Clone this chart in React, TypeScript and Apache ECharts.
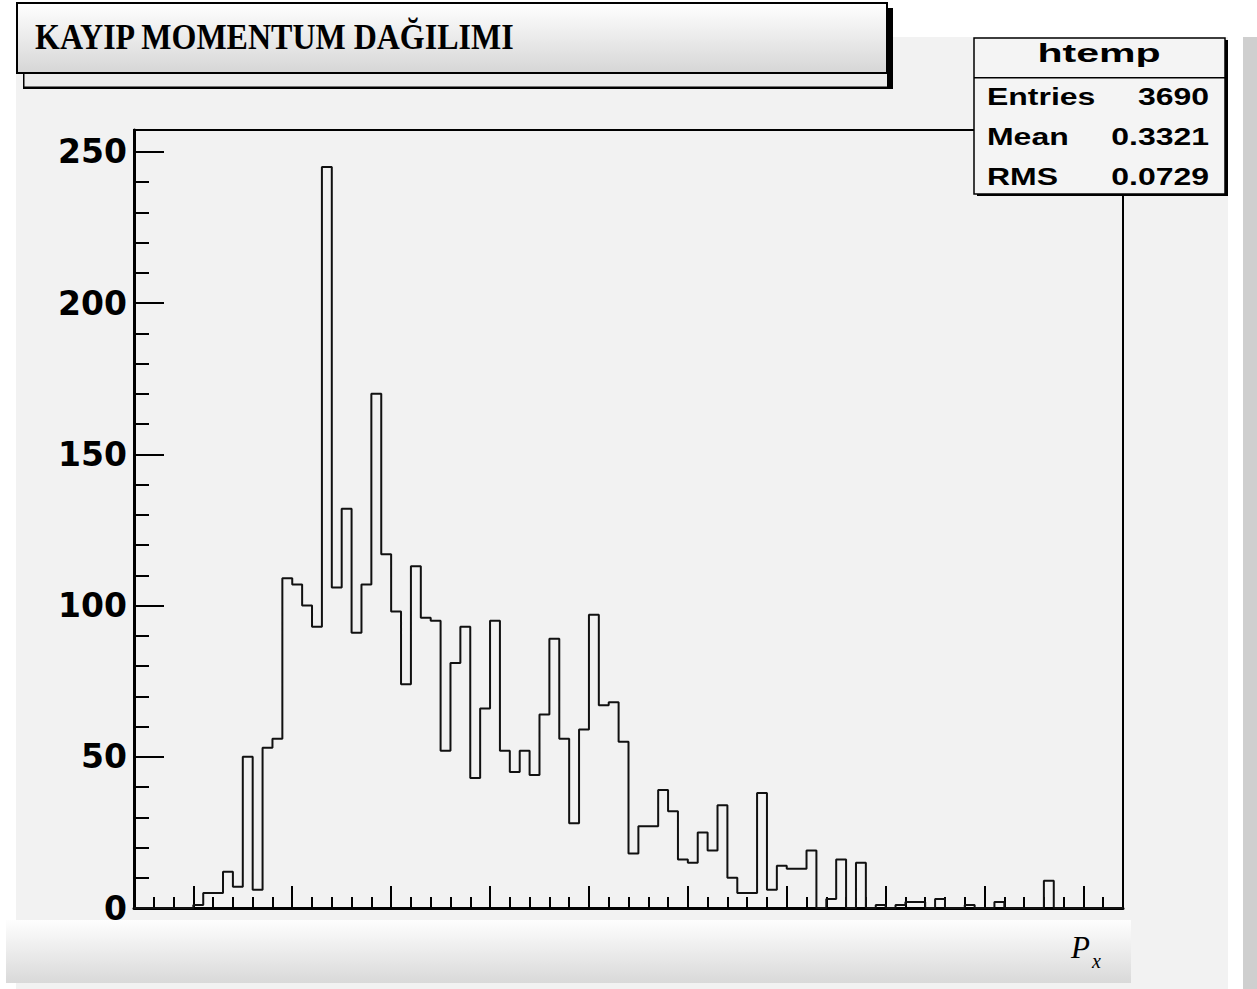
import React, { useEffect, useRef } from "react";
import * as echarts from "echarts";

// Histogram "htemp": 100 bins, counts
const COUNTS = [
  0, 0, 0, 0, 0, 0, 1, 5, 5, 12,
  7, 50, 6, 53, 56, 109, 107, 100, 93, 245,
  106, 132, 91, 107, 170, 117, 98, 74, 113, 96,
  95, 52, 81, 93, 43, 66, 95, 52, 45, 52,
  44, 64, 89, 56, 28, 59, 97, 67, 68, 55,
  18, 27, 27, 39, 32, 16, 15, 25, 19, 34,
  10, 5, 5, 38, 6, 14, 13, 13, 19, 0,
  3, 16, 0, 15, 0, 1, 0, 1, 2, 2,
  0, 3, 0, 0, 1, 0, 0, 2, 0, 0,
  0, 0, 9, 0, 0, 0, 0, 0, 0, 0,
];
const BIN_COUNT = 100;
const Y_MAX = 257.25; // 1.05 x maximum bin
const X_MAJOR_TICKS = [6, 16, 26, 36, 46, 56, 66, 76, 86, 96];
const X_MINOR_TICKS = [2, 4, 8, 10, 12, 14, 18, 20, 22, 24, 28, 30, 32, 34, 38, 40, 42, 44, 48, 50, 52, 54, 58, 60, 62, 64, 68, 70, 72, 74, 78, 80, 82, 84, 88, 90, 92, 94, 98];
const Y_MAJOR_TICKS = [0, 50, 100, 150, 200, 250];
const Y_MINOR_TICKS = [10, 20, 30, 40, 60, 70, 80, 90, 110, 120, 130, 140, 160, 170, 180, 190, 210, 220, 230, 240];

const TITLE = "KAYIP MOMENTUM DAĞILIMI";
const STATS_NAME = "htemp";
const STATS_ROWS: [string, string][] = [
  ["Entries", "3690"],
  ["Mean", "0.3321"],
  ["RMS", "0.0729"],
];
const X_TITLE_MAIN = "P";
const X_TITLE_SUB = "x";

export default function App() {
  const ref = useRef<HTMLDivElement>(null);
  useEffect(() => {
    if (!ref.current) return;
    const chart = echarts.init(ref.current, null, { renderer: "svg" });
    const stepData: number[][] = COUNTS.map((v, i) => [i, v]);
    stepData.push([BIN_COUNT, COUNTS[BIN_COUNT - 1]]);

    const statsFont = { fontFamily: "Liberation Sans", fontWeight: "bold" as const, fontSize: 23, fill: "#000" };
    const rowY = [96.7, 136.7, 176.7];
    const statsTexts: any[] = [];
    STATS_ROWS.forEach(([k, v], i) => {
      statsTexts.push({
        type: "text", x: 987, y: rowY[i], scaleX: 1.39, z: 102,
        style: { ...statsFont, text: k, align: "left", verticalAlign: "middle" },
      });
      statsTexts.push({
        type: "text", x: 1209, y: rowY[i], scaleX: 1.39, z: 102,
        style: { ...statsFont, text: v, align: "right", verticalAlign: "middle" },
      });
    });

    const axisTickBase = { show: true, inside: true };
    chart.setOption({
      animation: false,
      backgroundColor: "#ffffff",
      grid: {
        left: 134, top: 130, width: 989, height: 778,
        show: true, borderColor: "#000", borderWidth: 2, backgroundColor: "transparent",
        containLabel: false, outerBoundsMode: "none",
      },
      xAxis: [
        {
          type: "value", min: 0, max: BIN_COUNT, position: "bottom",
          axisLine: { show: true, onZero: false, lineStyle: { color: "#000", width: 3 } },
          axisTick: { ...axisTickBase, length: 22, customValues: X_MAJOR_TICKS, lineStyle: { color: "#000", width: 2 } },
          axisLabel: { show: false },
          splitLine: { show: false },
        },
        {
          type: "value", min: 0, max: BIN_COUNT, position: "bottom", offset: 0,
          axisLine: { show: false },
          axisTick: { ...axisTickBase, length: 11, customValues: X_MINOR_TICKS, lineStyle: { color: "#000", width: 2 } },
          axisLabel: { show: false },
          splitLine: { show: false },
        },
      ],
      yAxis: [
        {
          type: "value", min: 0, max: Y_MAX, position: "left",
          axisLine: { show: true, onZero: false, lineStyle: { color: "#000", width: 3 } },
          axisTick: { ...axisTickBase, length: 30, customValues: Y_MAJOR_TICKS, lineStyle: { color: "#000", width: 2 } },
          axisLabel: {
            show: true, customValues: Y_MAJOR_TICKS, margin: 7,
            fontFamily: "DejaVu Sans", fontWeight: "bold", fontSize: 33, color: "#000",
          },
          splitLine: { show: false },
        },
        {
          type: "value", min: 0, max: Y_MAX, position: "left", offset: 0,
          axisLine: { show: false },
          axisTick: { ...axisTickBase, length: 15, customValues: Y_MINOR_TICKS, lineStyle: { color: "#000", width: 2 } },
          axisLabel: { show: false },
          splitLine: { show: false },
        },
      ],
      series: [
        {
          type: "line", xAxisIndex: 0, yAxisIndex: 0, step: "end",
          data: stepData, symbol: "none", silent: true,
          lineStyle: { color: "#111", width: 2 },
          z: 5,
        },
      ],
      graphic: [
        // pad background
        { type: "rect", z: -10, shape: { x: 16, y: 37, width: 1212, height: 952 }, style: { fill: "#f2f2f2" } },
        { type: "rect", z: -10, shape: { x: 1243, y: 37, width: 14, height: 952 }, style: { fill: "#cfcfcf" } },
        // title pave (shadow + box)
        { type: "rect", z: 100, shape: { x: 23, y: 8, width: 870, height: 81 }, style: { fill: "#000" } },
        { type: "rect", z: 100, shape: { x: 24.5, y: 72, width: 862.5, height: 14.5 }, style: { fill: "#ececec" } },
        {
          type: "rect", z: 101, shape: { x: 17, y: 3, width: 870, height: 70 },
          style: {
            fill: new echarts.graphic.LinearGradient(0, 0, 0, 1, [
              { offset: 0, color: "#ffffff" },
              { offset: 1, color: "#d6d6d6" },
            ]),
            stroke: "#000", lineWidth: 2,
          },
        },
        {
          type: "text", z: 102, x: 35, y: 36.5, scaleY: 1.14,
          style: { text: TITLE, fontFamily: "Liberation Serif", fontWeight: "bold", fontSize: 32, fill: "#000", align: "left", verticalAlign: "middle" },
        },
        // stats box
        { type: "rect", z: 100, shape: { x: 977, y: 40, width: 251, height: 156 }, style: { fill: "#000" } },
        { type: "rect", z: 101, shape: { x: 974, y: 38, width: 251, height: 156 }, style: { fill: "#f4f4f4", stroke: "#000", lineWidth: 1.5 } },
        { type: "line", z: 102, shape: { x1: 974, y1: 77.7, x2: 1225, y2: 77.7 }, style: { stroke: "#000", lineWidth: 1.5 } },
        {
          type: "text", z: 102, x: 1099, y: 52.5, scaleX: 1.58,
          style: { text: STATS_NAME, fontFamily: "Liberation Sans", fontWeight: "bold", fontSize: 26, fill: "#000", align: "center", verticalAlign: "middle" },
        },
        ...statsTexts,
        // bottom axis-title band
        {
          type: "rect", z: 100, shape: { x: 6, y: 920, width: 1125, height: 63 },
          style: {
            fill: new echarts.graphic.LinearGradient(0, 0, 0, 1, [
              { offset: 0, color: "#fefefe" },
              { offset: 1, color: "#d9d9d9" },
            ]),
          },
        },
        {
          type: "text", z: 102, x: 1071, y: 947,
          style: { text: X_TITLE_MAIN, fontFamily: "Liberation Serif", fontStyle: "italic", fontSize: 31, fill: "#000", align: "left", verticalAlign: "middle" },
        },
        {
          type: "text", z: 102, x: 1092, y: 961,
          style: { text: X_TITLE_SUB, fontFamily: "Liberation Serif", fontStyle: "italic", fontSize: 20, fill: "#000", align: "left", verticalAlign: "middle" },
        },
      ],
    });
    return () => chart.dispose();
  }, []);
  return (
    <div
      ref={ref}
      style={{ position: "absolute", left: 0, top: 0, width: 1257, height: 989 }}
    />
  );
}
